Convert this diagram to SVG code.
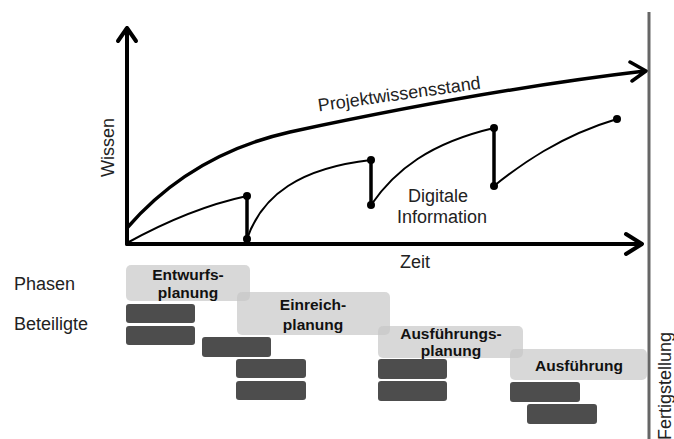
<svg xmlns="http://www.w3.org/2000/svg" width="674" height="439" viewBox="0 0 674 439">
  <style>
    .lbl { font-family: "Liberation Sans", Arial, sans-serif; font-size: 18px; fill: #222; }
    .phase-t { font-family: "Liberation Sans", Arial, sans-serif; font-size: 15.5px; font-weight: bold; fill: #111; text-anchor: middle; }
    .phase { fill: #c8c8c8; fill-opacity: 0.7; }
    .party { fill: #4d4d4d; }
    .axis { stroke: #000; stroke-width: 4; fill: none; stroke-linecap: round; stroke-linejoin: round; }
    .know { stroke: #000; stroke-width: 3.5; fill: none; stroke-linecap: round; stroke-linejoin: round; }
    .info { stroke: #000; stroke-width: 2; fill: none; }
    .drop { stroke: #000; stroke-width: 3.5; }
    .dot { fill: #000; }
  </style>
  <rect width="674" height="439" fill="#fff"/>

  <!-- completion line -->
  <line x1="649" y1="12" x2="649" y2="439" stroke="#666" stroke-width="3"/>
  <text class="lbl" transform="translate(671,440) rotate(-90)">Fertigstellung</text>

  <!-- axes and curves -->
  <g id="connectors">
    <path class="axis" d="M127,244 V28 M118,41 L127,28 L136,41"/>
    <path class="axis" d="M127,244 H641 M626,234 L642,244 L626,254"/>
    <path class="know" d="M127,228 C160,190 210,150 290,132 C360,117 500,88 645,71 M630,62 L646,71 L632,81"/>
    <path class="info" d="M127,243 C165,222 205,205 247,196"/>
    <path class="info" d="M247,239 C262,195 300,168 371,160"/>
    <path class="info" d="M371,205 C395,170 430,143 494,128"/>
    <path class="info" d="M494,186 C520,165 560,136 617,119"/>
    <line class="drop" x1="247" y1="196" x2="247" y2="239"/>
    <line class="drop" x1="371" y1="160" x2="371" y2="205"/>
    <line class="drop" x1="494" y1="128" x2="494" y2="186"/>
    <circle class="dot" cx="247" cy="196" r="4"/>
    <circle class="dot" cx="247" cy="239" r="4"/>
    <circle class="dot" cx="371" cy="160" r="4"/>
    <circle class="dot" cx="371" cy="205" r="4"/>
    <circle class="dot" cx="494" cy="128" r="4"/>
    <circle class="dot" cx="494" cy="186" r="4"/>
    <circle class="dot" cx="617" cy="119" r="4"/>
  </g>

  <g id="labels">
    <text class="lbl" text-anchor="middle" transform="translate(114,147.5) rotate(-90)">Wissen</text>
    <text class="lbl" x="415" y="268" text-anchor="middle">Zeit</text>
    <text class="lbl" text-anchor="middle" transform="translate(400,100) rotate(-8)">Projektwissensstand</text>
    <text class="lbl" x="438" y="202" text-anchor="middle">Digitale</text>
    <text class="lbl" x="442" y="223" text-anchor="middle">Information</text>
    <text class="lbl" x="14" y="290">Phasen</text>
    <text class="lbl" x="14" y="330">Beteiligte</text>
  </g>

  <!-- phases -->
  <g id="phase-entwurf">
    <rect class="phase" x="126" y="265" width="124" height="36" rx="5"/>
    <text class="phase-t" x="188" y="280">Entwurfs-</text>
    <text class="phase-t" x="188" y="298">planung</text>
  </g>
  <g id="phase-einreich">
    <rect class="phase" x="237" y="292" width="153" height="43" rx="5"/>
    <text class="phase-t" x="313" y="310">Einreich-</text>
    <text class="phase-t" x="313" y="330">planung</text>
  </g>
  <g id="phase-ausfuehrungsplanung">
    <rect class="phase" x="378" y="326" width="145" height="32" rx="5"/>
    <text class="phase-t" x="451" y="339">Ausführungs-</text>
    <text class="phase-t" x="451" y="356">planung</text>
  </g>
  <g id="phase-ausfuehrung">
    <rect class="phase" x="510" y="349" width="137" height="31" rx="5"/>
    <text class="phase-t" x="579" y="371">Ausführung</text>
  </g>

  <!-- participants -->
  <g id="parties">
    <rect class="party" x="126" y="304" width="69" height="19" rx="3"/>
    <rect class="party" x="126" y="326" width="69" height="19" rx="3"/>
    <rect class="party" x="202" y="337" width="69" height="20" rx="3"/>
    <rect class="party" x="236" y="359" width="70" height="19" rx="3"/>
    <rect class="party" x="236" y="381" width="70" height="19" rx="3"/>
    <rect class="party" x="378" y="359" width="69" height="20" rx="3"/>
    <rect class="party" x="378" y="381" width="69" height="20" rx="3"/>
    <rect class="party" x="510" y="382" width="70" height="20" rx="3"/>
    <rect class="party" x="527" y="404" width="70" height="20" rx="3"/>
  </g>
</svg>
